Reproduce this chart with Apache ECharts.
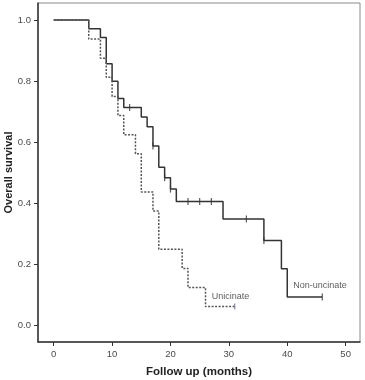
<!DOCTYPE html>
<html>
<head>
<meta charset="utf-8">
<title>Overall survival</title>
<script src="https://cdn.jsdelivr.net/npm/echarts@6/dist/echarts.min.js"></script>
<style>
	html, body { margin: 0; padding: 0; background: #fff; }
	#chart { width: 365px; height: 380px; }
</style>
</head>
<body>
<div id="chart"></div>
<script>
// Non-uncinate (solid)
var nonTime = [0, 6, 8, 9, 10, 11, 12, 15, 16, 17, 18, 19, 20, 21, 29, 36, 39, 40, 46];
var nonSurv = [1, 0.971, 0.943, 0.857, 0.80, 0.743, 0.714, 0.683, 0.651, 0.588, 0.518, 0.484, 0.447, 0.406, 0.349, 0.279, 0.186, 0.094, 0.094];
var nonCensTime = [13, 17, 19, 20, 23, 25, 27, 33, 36, 46];
var nonCensSurv = [0.714, 0.588, 0.484, 0.447, 0.406, 0.406, 0.406, 0.349, 0.279, 0.094];
// Unicinate (dashed)
var uniTime = [0, 6, 8, 9, 10, 11, 12, 14, 15, 17, 18, 22, 23, 26, 31];
var uniSurv = [1, 0.9375, 0.875, 0.8125, 0.75, 0.6875, 0.625, 0.5625, 0.4375, 0.375, 0.25, 0.1875, 0.125, 0.0625, 0.0625];
var uniCensTime = [31];
var uniCensSurv = [0.0625];
// ticks
var xTicks = [0, 10, 20, 30, 40, 50];
var yTicks = [0, 0.2, 0.4, 0.6, 0.8, 1.0];

function pairs(a, b) {
	var out = [];
	for (var i = 0; i < a.length; i++) {
		out.push([a[i], b[i]]);
	}
	return out;
}

var chart = echarts.init(document.getElementById('chart'));
var font = 'Liberation Sans, Arial, sans-serif';
var option = {
	animation: false,
	backgroundColor: '#fff',
	grid: {
		left: 38,
		right: 5,
		top: 3,
		bottom: 38,
		outerBoundsMode: 'none',
		containLabel: false,
		show: true,
		borderColor: '#8a8a8a',
		borderWidth: 1
	},
	xAxis: {
		type: 'value',
		min: -2.69,
		max: 52.46,
		name: 'Follow up (months)',
		nameLocation: 'middle',
		nameGap: 24,
		nameMoveOverlap: false,
		nameTextStyle: { fontFamily: font, fontSize: 11.5, fontWeight: 'bold', color: '#222' },
		axisLine: { show: true, onZero: false, lineStyle: { color: '#333', width: 1.5 } },
		axisTick: { show: true, length: 4, customValues: xTicks, lineStyle: { color: '#333' } },
		axisLabel: { customValues: xTicks, fontFamily: font, fontSize: 9.5, color: '#4a4a4a', margin: 7 },
		splitLine: { show: false }
	},
	yAxis: {
		type: 'value',
		min: -0.0533,
		max: 1.0556,
		name: 'Overall survival',
		nameLocation: 'middle',
		nameGap: 24,
		nameMoveOverlap: false,
		nameTextStyle: { fontFamily: font, fontSize: 11, fontWeight: 'bold', color: '#222' },
		axisLine: { show: true, onZero: false, lineStyle: { color: '#333', width: 1.5 } },
		axisTick: { show: true, length: 4, customValues: yTicks, lineStyle: { color: '#333' } },
		axisLabel: {
			customValues: yTicks,
			fontFamily: font,
			fontSize: 9.5,
			color: '#4a4a4a',
			margin: 7,
			formatter: function(v) { return v.toFixed(1); }
		},
		splitLine: { show: false }
	},
	series: [{
		name: 'Non-uncinate',
		type: 'line',
		step: 'end',
		symbol: 'none',
		data: pairs(nonTime, nonSurv),
		lineStyle: { color: '#333', width: 1.5 },
		z: 2
	}, {
		name: 'Unicinate',
		type: 'line',
		step: 'end',
		symbol: 'none',
		data: pairs(uniTime, uniSurv),
		lineStyle: { color: '#555', width: 1.5, type: [2, 1.5] },
		z: 3
	}, {
		name: 'Non-uncinate censored',
		type: 'scatter',
		symbol: 'rect',
		symbolSize: [1.2, 7],
		itemStyle: { color: '#333' },
		data: pairs(nonCensTime, nonCensSurv),
		z: 4
	}, {
		name: 'Unicinate censored',
		type: 'scatter',
		symbol: 'rect',
		symbolSize: [1.2, 6],
		itemStyle: { color: '#6a6a90' },
		data: pairs(uniCensTime, uniCensSurv),
		z: 4
	}, {
		// curve labels
		type: 'scatter',
		symbolSize: 0,
		silent: true,
		data: [
			{ value: [30.3, 0.095], name: 'Unicinate' },
			{ value: [45.6, 0.131], name: 'Non-uncinate' }
		],
		label: {
			show: true,
			position: 'inside',
			formatter: '{b}',
			fontFamily: font,
			fontSize: 9,
			color: '#333'
		}
	}]
};
chart.setOption(option);
</script>
</body>
</html>
